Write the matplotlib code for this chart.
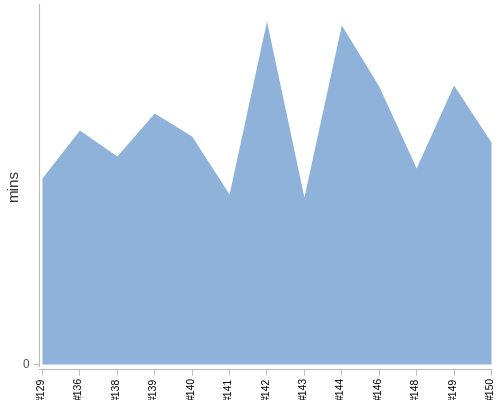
import matplotlib
matplotlib.use('Agg')
import matplotlib.pyplot as plt

# Дані
builds = ['#129', '#136', '#138', '#139', '#140', '#141', '#142',
          '#143', '#144', '#146', '#148', '#149', '#150']
mins = [186, 234, 208, 251, 228, 170, 343, 167, 339, 278, 196, 279, 222]

plt.rcParams['font.family'] = ['Liberation Sans', 'DejaVu Sans']

fig = plt.figure(figsize=(5, 4), dpi=100)
ax = fig.add_axes([39 / 500, 31 / 400, 452 / 500, 365 / 400])

x = list(range(len(builds)))
ax.fill_between(x, mins, 0, color='#8fb2da', linewidth=0)

ax.set_xlim(-0.08, len(builds) - 1)
ax.set_ylim(-5, 360)

ax.set_xticks(x)
ax.set_xticklabels(builds, rotation=90, fontsize=7.5, color='black')
ax.set_yticks([0])
ax.set_yticklabels(['0'], fontsize=8.5, color='#555555')
ax.tick_params(axis='x', length=4, width=0.8, color='#bbbbbb', pad=2)
ax.tick_params(axis='y', length=4, width=0.8, color='#bbbbbb', pad=3)

for side in ['top', 'right']:
    ax.spines[side].set_visible(False)
ax.spines['left'].set_color('#bbbbbb')
ax.spines['bottom'].set_color('#bbbbbb')
ax.spines['left'].set_bounds(-2, 360)

ax.set_ylabel('mins', fontsize=11, color='#333333')
ax.yaxis.set_label_coords(-18 / 452, 0.5)

fig.savefig('out.png', dpi=100)
